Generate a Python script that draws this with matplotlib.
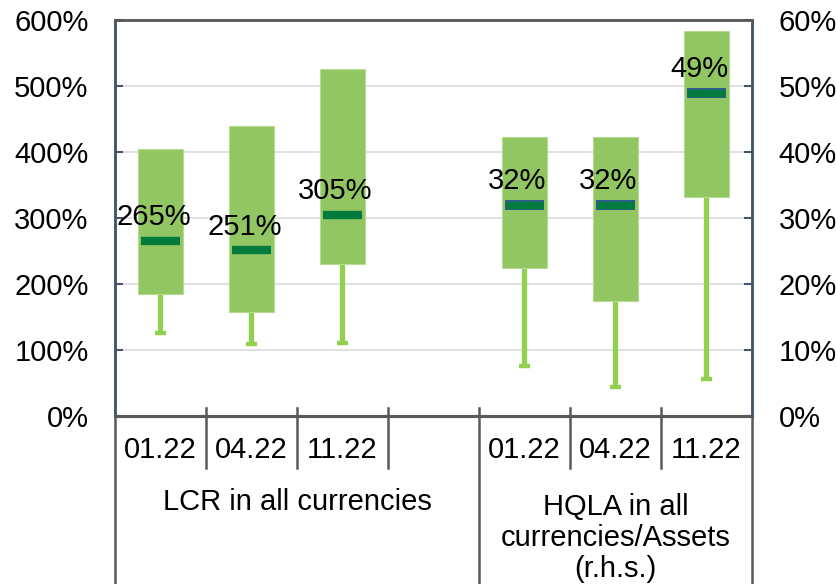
import numpy as np
import matplotlib
matplotlib.use("Agg")
import matplotlib.pyplot as plt
import matplotlib.transforms as mtransforms

plt.rcParams['font.family'] = ['Liberation Sans', 'DejaVu Sans']

# LCR in all currencies (left axis, %)
lcr_dates = ["01.22", "04.22", "11.22"]
lcr_low = [126, 109, 111]
lcr_q1 = [185, 157, 231]
lcr_median = [265, 251, 305]
lcr_q3 = [404, 440, 525]

# HQLA in all currencies / assets (right axis, %)
hqla_dates = ["01.22", "04.22", "11.22"]
hqla_low = [7.6, 4.4, 5.6]
hqla_q1 = [22.4, 17.5, 33.2]
hqla_median = [32, 32, 49]
hqla_q3 = [42.2, 42.3, 58.3]

group_names = ["LCR in all currencies", "HQLA in all\ncurrencies/Assets\n(r.h.s.)"]

BOX_COLOR = "#92C662"
WHISK_COLOR = "#92D050"
MED_COLOR = "#007A3D"
GRID_COLOR = "#D9DCDD"
AXIS_BLUE = "#44546A"
AXIS_GRAY = "#595959"
FS = 21

fig = plt.figure(figsize=(8.37, 5.84), dpi=100)
ax = fig.add_axes([115/837, 1-416/584, (752-115)/837, (416-20)/584])
ax2 = ax.twinx()

x_lcr = np.arange(len(lcr_dates))
x_hqla = np.arange(len(hqla_dates)) + len(lcr_dates) + 1
n_slots = len(lcr_dates) + len(hqla_dates) + 1


def draw_boxes(a, xs, low, q1, med, q3, outline):
    a.bar(xs, np.array(q3) - np.array(q1), bottom=q1, width=0.5,
          color=BOX_COLOR, edgecolor="#B5DC92", linewidth=0.8, zorder=3)
    a.vlines(xs, low, q1, color=WHISK_COLOR, linewidth=3.8, zorder=2)
    a.hlines(low, xs - 0.065, xs + 0.065, color=WHISK_COLOR, linewidth=3.2, zorder=2)
    if outline:
        a.hlines(med, xs - 0.215, xs + 0.215, color="#2F5D8C", linewidth=7.2, zorder=4)
        a.hlines(med, xs - 0.2, xs + 0.2, color=MED_COLOR, linewidth=5.2, zorder=5)
    else:
        a.hlines(med, xs - 0.21, xs + 0.21, color=MED_COLOR, linewidth=6, zorder=5)
    for xi, m in zip(xs, med):
        a.annotate("%d%%" % round(m), (xi, m), xytext=(-5, 7), textcoords="offset points",
                   ha="center", va="bottom", fontsize=FS, zorder=6)


draw_boxes(ax, x_lcr, lcr_low, lcr_q1, lcr_median, lcr_q3, False)
draw_boxes(ax2, x_hqla, hqla_low, hqla_q1, hqla_median, hqla_q3, True)

ax.set_xlim(-0.5, n_slots - 0.5)
ax.set_ylim(0, 600)
ax2.set_ylim(0, 60)
ax.set_yticks(np.arange(0, 601, 100))
ax2.set_yticks(np.arange(0, 61, 10))
ax.set_yticklabels(["%d%%" % v for v in range(0, 601, 100)])
ax2.set_yticklabels(["%d%%" % v for v in range(0, 61, 10)])
ax.set_xticks([])
ax.tick_params(axis="y", direction="in", length=6, width=1.5, color=AXIS_BLUE,
               labelsize=FS, pad=19)
ax2.tick_params(axis="y", direction="in", length=6, width=1.5, color=AXIS_BLUE,
                labelsize=FS, pad=19)

for y in range(100, 600, 100):
    ax.axhline(y, color=GRID_COLOR, linewidth=1.2, zorder=0)

for a in (ax, ax2):
    a.spines["left"].set_color(AXIS_BLUE)
    a.spines["right"].set_color(AXIS_BLUE)
    a.spines["left"].set_linewidth(1.8)
    a.spines["right"].set_linewidth(1.8)
    a.spines["top"].set_color(AXIS_GRAY)
    a.spines["top"].set_linewidth(1.8)
    a.spines["bottom"].set_color(AXIS_GRAY)
    a.spines["bottom"].set_linewidth(2.2)

# multi-level category axis
trans = mtransforms.blended_transform_factory(ax.transData, ax.transAxes)
for xi, lab in zip(list(x_lcr) + list(x_hqla), lcr_dates + hqla_dates):
    ax.text(xi, -0.086, lab, transform=trans, ha="center", va="center", fontsize=FS)

edges = [-0.5, len(lcr_dates) + 0.5, n_slots - 0.5]
for b in np.arange(-0.5, n_slots, 1.0):
    y_end = -0.45 if b in edges else -0.131
    y_start = 0 if b in (edges[0], edges[-1]) else 0.02
    ax.plot([b, b], [y_start, y_end], transform=trans,
            color=AXIS_GRAY, linewidth=1.8, clip_on=False, zorder=1)

ax.text((edges[0] + edges[1]) / 2, -0.217, group_names[0], transform=trans,
        ha="center", va="center", fontsize=FS)
ax.text((edges[1] + edges[2]) / 2, -0.308, group_names[1], transform=trans,
        ha="center", va="center", fontsize=FS, linespacing=1.15)

fig.savefig("out.png", dpi=100)
